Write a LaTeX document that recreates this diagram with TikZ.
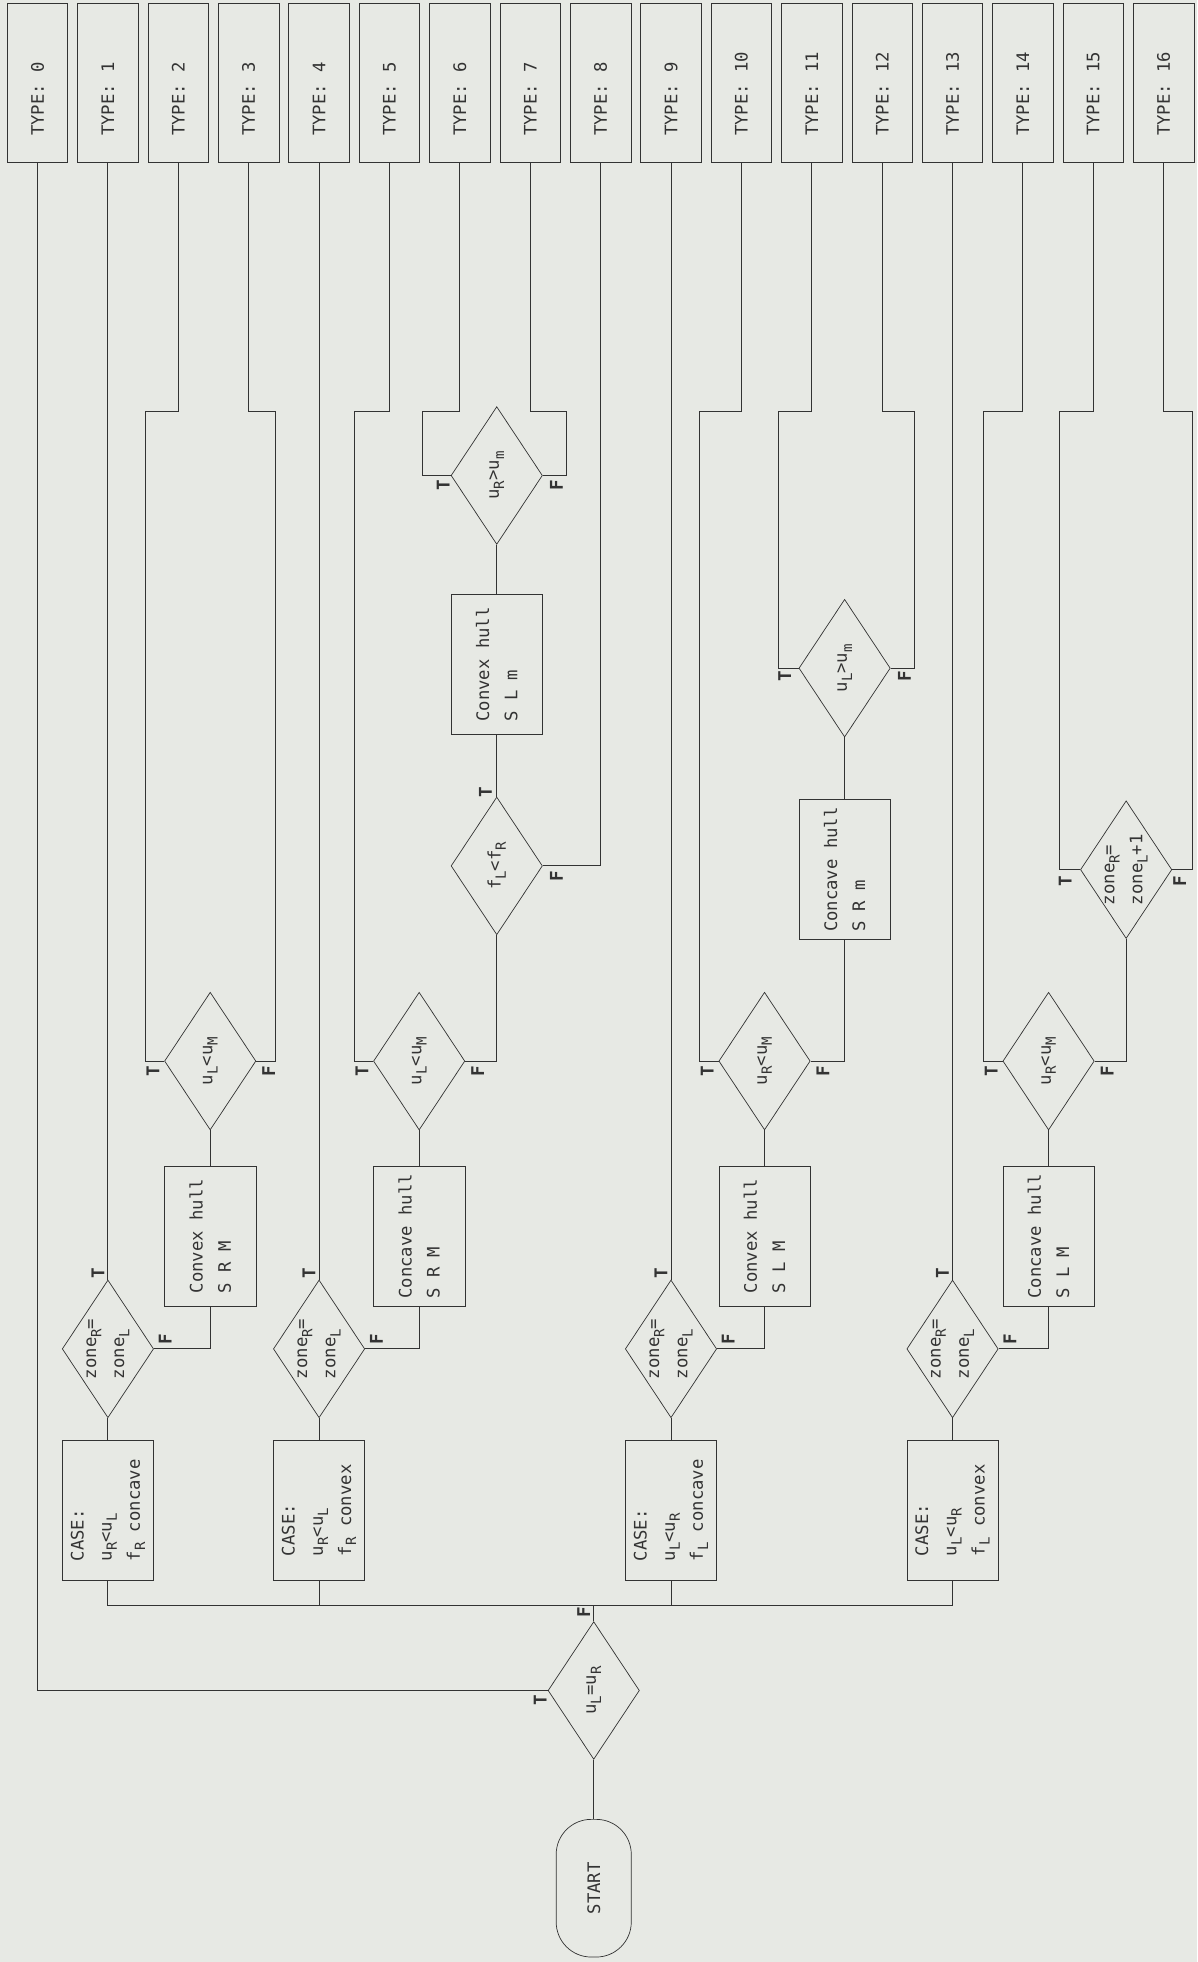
\documentclass[tikz,border=0pt]{standalone}
\usepackage{fontspec}
\usetikzlibrary{shapes.geometric}
\newfontfamily\fctype{DejaVu Sans Mono}
\definecolor{fcpaper}{HTML}{E7E9E4}
\definecolor{fcink}{HTML}{333333}
\newcommand{\fcsub}[1]{\raisebox{-0.55ex}{\fontsize{8}{8}\selectfont #1}}

\begin{document}
\begin{tikzpicture}[x=0.025cm, y=-0.025cm,
  every node/.style={rotate=90, text=fcink, font=\fctype\fontsize{9.8}{16}\selectfont},
  typebox/.style={draw=fcink, minimum width=3.175cm, minimum height=1.21cm, inner sep=0pt, text width=2.1cm, align=left},
  procbox/.style={draw=fcink, minimum width=2.8cm, minimum height=1.825cm, inner sep=0pt, align=left},
  decision/.style={draw=fcink, diamond, aspect=1.5, minimum width=2.75cm, minimum height=1.825cm, inner sep=0pt, align=left},
  startbox/.style={draw=fcink, rounded corners=0.7cm, minimum width=2.75cm, minimum height=1.5cm},
  tf/.style={inner sep=0pt, font=\fctype\bfseries\fontsize{10}{12}\selectfont},
  flow/.style={draw=fcink, line width=0.55pt}]
\fill[fcpaper] (0,0) rectangle (957,1568);
\useasboundingbox (0,0) rectangle (957,1568);

\foreach \i in {0,...,16}
  \node[typebox] (t\i) at ({30+56.25*\i},66.5) {TYPE:~~\i};

\node[startbox] (start) at (474.5,1509) {START};
\node[decision] (eq) at (474.5,1351) {u\fcsub{L}=u\fcsub{R}};
\coordinate (bus) at (474.5,1283);

\node[procbox] (c1) at (86.25,1207) {CASE:\\u\fcsub{R}<u\fcsub{L}\\f\fcsub{R} concave};
\node[procbox] (c2) at (255,1207) {CASE:\\u\fcsub{R}<u\fcsub{L}\\f\fcsub{R} convex};
\node[procbox] (c3) at (536.25,1207) {CASE:\\u\fcsub{L}<u\fcsub{R}\\f\fcsub{L} concave};
\node[procbox] (c4) at (761.25,1207) {CASE:\\u\fcsub{L}<u\fcsub{R}\\f\fcsub{L} convex};

\foreach \k/\x in {1/86.25,2/255,3/536.25,4/761.25}
  \node[decision] (z\k) at (\x,1078) {zone\fcsub{R}=\\zone\fcsub{L}};

\node[procbox] (h1) at (168,988) {Convex hull\\S R M};
\node[procbox] (h2) at (335,988) {Concave hull\\S R M};
\node[procbox] (h3) at (611,988) {Convex hull\\S L M};
\node[procbox] (h4) at (838,988) {Concave hull\\S L M};
\node[decision] (d1) at (168,848) {u\fcsub{L}<u\fcsub{M}};
\node[decision] (d2) at (335,848) {u\fcsub{L}<u\fcsub{M}};
\node[decision] (d3) at (611,848) {u\fcsub{R}<u\fcsub{M}};
\node[decision] (d4) at (838,848) {u\fcsub{R}<u\fcsub{M}};

\node[decision] (ff) at (397,692) {f\fcsub{L}<f\fcsub{R}};
\node[procbox] (hx) at (397,531) {Convex hull\\S L m};
\node[decision] (ur) at (397,380) {u\fcsub{R}>u\fcsub{m}};
\node[procbox] (hr) at (675,695) {Concave hull\\S R m};
\node[decision] (ul) at (675,534) {u\fcsub{L}>u\fcsub{m}};
\node[decision] (zp) at (900,695) {zone\fcsub{R}=\\zone\fcsub{L}+1};

\draw[flow] (start.east) -- (eq.west);
\draw[flow] (eq.north) -| (t0.west);
\draw[flow] (eq.east) -- (bus);
\draw[flow] (c1.west) |- (bus) -| (c4.west);
\draw[flow] (c2.west) -- (c2.west |- bus);
\draw[flow] (c3.west) -- (c3.west |- bus);
\foreach \k/\t in {1/1,2/4,3/9,4/13} {
  \draw[flow] (c\k.east) -- (z\k.west);
  \draw[flow] (z\k.east) -- (t\t.west);
  \draw[flow] (z\k.south) -| (h\k.west);
  \draw[flow] (h\k.east) -- (d\k.west);
}
\draw[flow] (d1.north) -| (116,329) -| (t2.west);
\draw[flow] (d1.south) -| (220,329) -| (t3.west);
\draw[flow] (d2.north) -| (283,329) -| (t5.west);
\draw[flow] (d2.south) -| (ff.west);
\draw[flow] (d3.north) -| (559,329) -| (t10.west);
\draw[flow] (d3.south) -| (hr.west);
\draw[flow] (d4.north) -| (786,329) -| (t14.west);
\draw[flow] (d4.south) -| (zp.west);
\draw[flow] (ff.east) -- (hx.west);
\draw[flow] (ff.south) -| (t8.west);
\draw[flow] (hx.east) -- (ur.west);
\draw[flow] (ur.north) -| (338,329) -| (t6.west);
\draw[flow] (ur.south) -| (453,329) -| (t7.west);
\draw[flow] (hr.east) -- (ul.west);
\draw[flow] (ul.north) -| (622,329) -| (t11.west);
\draw[flow] (ul.south) -| (731,329) -| (t12.west);
\draw[flow] (zp.north) -| (847,329) -| (t15.west);
\draw[flow] (zp.south) -| (953,329) -| (t16.west);

\node[tf] (eqt) at ([shift={(-6,8)}]eq.north) {T};
\node[tf] (eqf) at ([shift={(-8,-7)}]eq.east) {F};
\foreach \k in {1,2,3,4} {
  \node[tf] (z\k t) at ([shift={(-8,-5)}]z\k.east) {T};
  \node[tf] (z\k f) at ([shift={(9,-8)}]z\k.south) {F};
  \node[tf] (d\k t) at ([shift={(-9,8)}]d\k.north) {T};
}
\node[tf] (d1f) at ([shift={(10,8)}]d1.south) {F};
\node[tf] (d2f) at ([shift={(10,8)}]d2.south) {F};
\node[tf] (d3f) at ([shift={(10,8)}]d3.south) {F};
\node[tf] (d4f) at ([shift={(10,8)}]d4.south) {F};
\node[tf] (fft) at ([shift={(-9,-4)}]ff.east) {T};
\node[tf] (fff) at ([shift={(11,8)}]ff.south) {F};
\node[tf] (urt) at ([shift={(-6,8)}]ur.north) {T};
\node[tf] (urf) at ([shift={(11,8)}]ur.south) {F};
\node[tf] (ult) at ([shift={(-11,6)}]ul.north) {T};
\node[tf] (ulf) at ([shift={(11,6)}]ul.south) {F};
\node[tf] (zpt) at ([shift={(-12,9)}]zp.north) {T};
\node[tf] (zpf) at ([shift={(6,9)}]zp.south) {F};
\end{tikzpicture}
\end{document}
